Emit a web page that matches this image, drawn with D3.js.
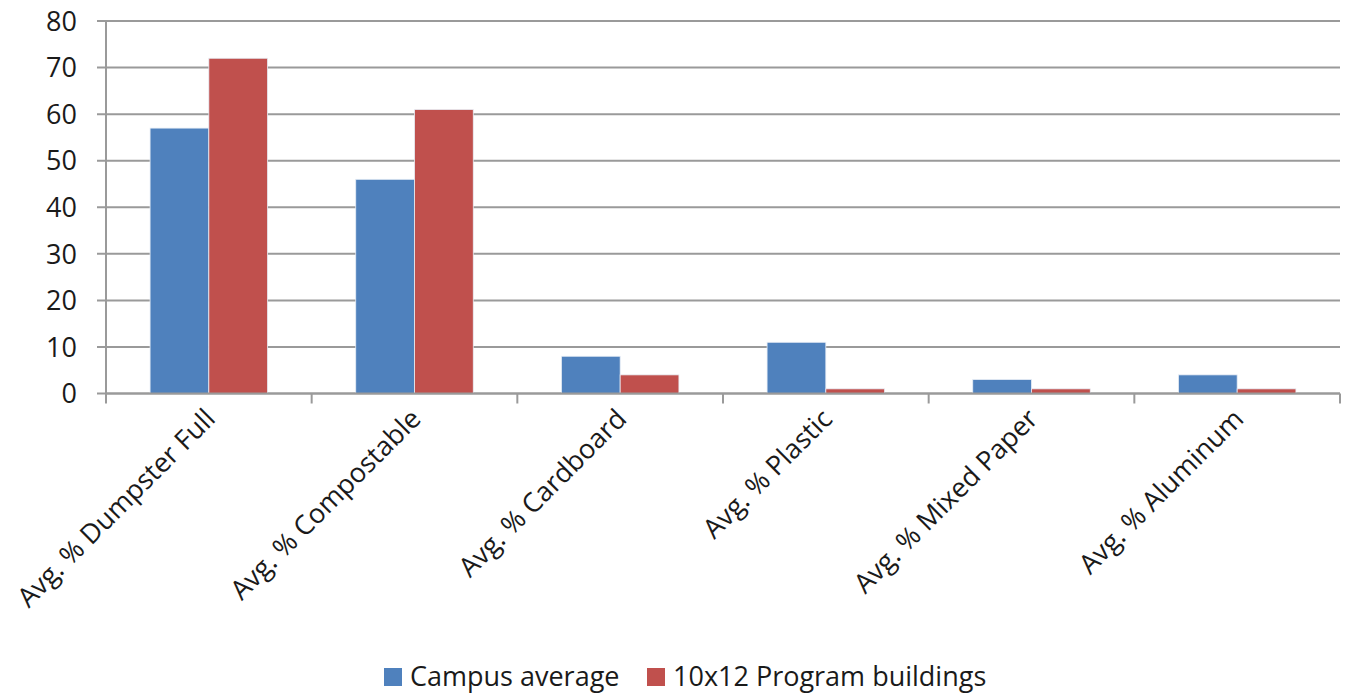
<!DOCTYPE html>
<html>
<head>
<meta charset="utf-8">
<script src="https://cdn.jsdelivr.net/npm/d3@7"></script>
<style>
  body { margin: 0; background: #fff; }
  svg text { font-family: "Open Sans", sans-serif; fill: #1a1a1a; }
</style>
</head>
<body>
<svg id="chart" width="1349" height="693"></svg>
<script>
// data
const categories = ["Avg. % Dumpster Full", "Avg. % Compostable", "Avg. % Cardboard",
  "Avg. % Plastic", "Avg. % Mixed Paper", "Avg. % Aluminum"];
const campusAvg = [57, 46, 8, 11, 3, 4];
const programBuildings = [72, 61, 4, 1, 1, 1];
const seriesNames = ["Campus average", "10x12 Program buildings"];
const seriesColors = ["#4F81BD", "#C0504D"];
const yTicks = [0, 10, 20, 30, 40, 50, 60, 70, 80];

const svg = d3.select("#chart");
const plotLeft = 106, plotRight = 1340, plotTop = 21, plotBottom = 393.5;

const x = d3.scaleBand().domain(categories).range([plotLeft, plotRight]).paddingInner(0).paddingOuter(0);
const x1 = d3.scaleBand().domain([0, 1]).range([0, x.bandwidth()]).paddingOuter(0.75).paddingInner(0);
const y = d3.scaleLinear().domain([0, 80]).range([plotBottom, plotTop]);

// gridlines + y labels
const grid = svg.append("g");
grid.selectAll("line").data(yTicks).join("line")
  .attr("x1", plotLeft - 9).attr("x2", plotRight)
  .attr("y1", d => y(d)).attr("y2", d => y(d))
  .attr("stroke", "#9a9a9a").attr("stroke-width", 2);
grid.selectAll("text").data(yTicks).join("text")
  .attr("x", plotLeft - 29).attr("y", d => y(d))
  .attr("dy", "0.36em").attr("text-anchor", "end")
  .style("font-size", "27px")
  .text(d => d);

// bars
const rows = categories.map((c, i) => ({ cat: c, vals: [campusAvg[i], programBuildings[i]] }));
const groups = svg.append("g").selectAll("g").data(rows).join("g")
  .attr("transform", d => `translate(${x(d.cat)},0)`);
groups.selectAll("rect").data(d => d.vals).join("rect")
  .attr("x", (d, i) => x1(i))
  .attr("width", x1.bandwidth())
  .attr("y", d => y(d))
  .attr("height", d => y(0) - y(d))
  .attr("fill", (d, i) => seriesColors[i])
  .attr("stroke", "#e8eef6").attr("stroke-width", 0.8);

// axes lines
svg.append("line").attr("x1", plotLeft).attr("x2", plotLeft).attr("y1", plotTop).attr("y2", plotBottom)
  .attr("stroke", "#9a9a9a").attr("stroke-width", 2);
svg.append("line").attr("x1", plotLeft).attr("x2", plotRight).attr("y1", plotBottom).attr("y2", plotBottom)
  .attr("stroke", "#9a9a9a").attr("stroke-width", 2);
const bounds = categories.map(c => x(c)).concat([plotRight]);
svg.append("g").selectAll("line").data(bounds).join("line")
  .attr("x1", d => d).attr("x2", d => d)
  .attr("y1", plotBottom).attr("y2", plotBottom + 10)
  .attr("stroke", "#9a9a9a").attr("stroke-width", 2);

// category labels
svg.append("g").selectAll("text").data(categories).join("text")
  .attr("transform", d => `translate(${x(d) + x.bandwidth() / 2 + 8},${plotBottom + 27}) rotate(-45)`)
  .attr("text-anchor", "end")
  .style("font-size", "27px")
  .text(d => d);

// legend
const legendX = [384, 647];
const legend = svg.append("g").selectAll("g").data(seriesNames).join("g")
  .attr("transform", (d, i) => `translate(${legendX[i]},668)`);
legend.append("rect").attr("width", 18).attr("height", 18)
  .attr("fill", (d, i) => seriesColors[i]);
legend.append("text").attr("x", 26).attr("y", 17.5)
  .style("font-size", "27px")
  .text(d => d);
</script>
</body>
</html>
